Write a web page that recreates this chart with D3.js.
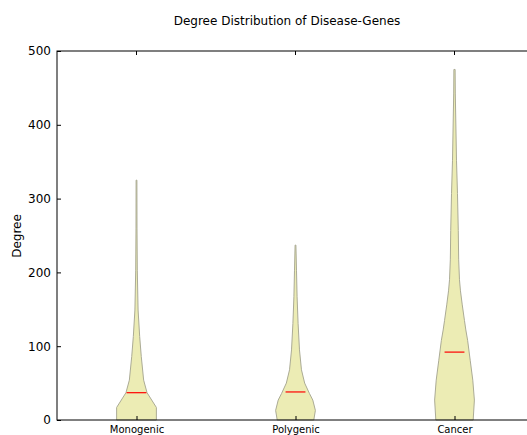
<!DOCTYPE html>
<html>
<head>
<script src="https://d3js.org/d3.v7.min.js"></script>
<style>
  body { margin: 0; background: #fff; }
  text { font-family: "DejaVu Sans", sans-serif; fill: #000; }
</style>
</head>
<body>
<svg width="527" height="435"></svg>
<script>
// categories and their positions on the x axis
var categories = ["Monogenic", "Polygenic", "Cancer"];
var positions = [1, 2, 3];
var medians = [37, 38, 92];
var yTicks = [0, 100, 200, 300, 400, 500];

// violin outlines: [degree, relative half width]
var monogenicProfile = [[0, 1.0], [17, 1.0], [37, 0.53], [54, 0.36], [86, 0.24], [113, 0.16],
  [149, 0.08], [203, 0.04], [260, 0.025], [325, 0.02]];
var polygenicProfile = [[0, 0.92], [13, 1.0], [27, 0.87], [36, 0.70], [50, 0.46], [68, 0.30],
  [95, 0.20], [131, 0.13], [167, 0.08], [203, 0.05], [237, 0.02]];
var cancerProfile = [[0, 0.94], [27, 1.0], [54, 0.92], [81, 0.79], [108, 0.66], [122, 0.57],
  [135, 0.5], [156, 0.39], [175, 0.3], [190, 0.25], [217, 0.21], [257, 0.19], [307, 0.15],
  [352, 0.1], [397, 0.07], [443, 0.04], [475, 0.03]];
var profiles = [monogenicProfile, polygenicProfile, cancerProfile];

var svg = d3.select("svg");
var x = d3.scaleLinear().domain([0.5, 3.5]).range([57, 534]);
var y = d3.scaleLinear().domain([0, 500]).range([420, 51]);
var maxHalf = 0.125; // half of violin width in x units
var medHalf = 0.0625;

//Violins
var area = d3.area()
  .y(function(d) { return y(d[0]); })
  .curve(d3.curveLinear);
profiles.forEach(function(p, i) {
  var pos = positions[i];
  area.x0(function(d) { return x(pos - d[1] * maxHalf); })
      .x1(function(d) { return x(pos + d[1] * maxHalf); });
  svg.append("path")
    .attr("d", area(p))
    .attr("fill", "#ececb4")
    .attr("stroke", "#abab95")
    .attr("stroke-width", 1);
});

//Medians
svg.append("g").selectAll("line")
  .data(medians).enter().append("line")
  .attr("x1", function(d, i) { return x(positions[i] - medHalf); })
  .attr("x2", function(d, i) { return x(positions[i] + medHalf); })
  .attr("y1", function(d) { return y(d); })
  .attr("y2", function(d) { return y(d); })
  .attr("stroke", "red")
  .attr("stroke-width", 1.2);

//Axes frame
svg.append("rect")
  .attr("x", 57).attr("y", 51)
  .attr("width", 534 - 57).attr("height", 420 - 51)
  .attr("fill", "none").attr("stroke", "#000").attr("stroke-width", 1);

//Y axis
var ya = svg.append("g").attr("transform", "translate(57,0)")
  .call(d3.axisLeft(y).tickValues(yTicks).tickSize(-4).tickPadding(6));
ya.select(".domain").remove();
ya.selectAll("text").style("font-size", "12px").style("font-family", "DejaVu Sans");

//X axis
var xa = svg.append("g").attr("transform", "translate(0,420)")
  .call(d3.axisBottom(x).tickValues(positions).tickFormat(function(d, i) { return categories[i]; })
    .tickSize(-4).tickPadding(6));
xa.select(".domain").remove();
xa.selectAll("text").style("font-size", "10px").style("font-family", "DejaVu Sans");

// top ticks
svg.append("g").selectAll("line")
  .data(positions).enter().append("line")
  .attr("x1", function(d) { return x(d); }).attr("x2", function(d) { return x(d); })
  .attr("y1", 51).attr("y2", 55).attr("stroke", "#000");

//Labels
svg.append("text")
  .attr("x", 287).attr("y", 25)
  .attr("text-anchor", "middle")
  .style("font-size", "12px")
  .text("Degree Distribution of Disease-Genes");
svg.append("text")
  .attr("transform", "translate(21,236) rotate(-90)")
  .attr("text-anchor", "middle")
  .style("font-size", "12px")
  .text("Degree");
</script>
</body>
</html>
